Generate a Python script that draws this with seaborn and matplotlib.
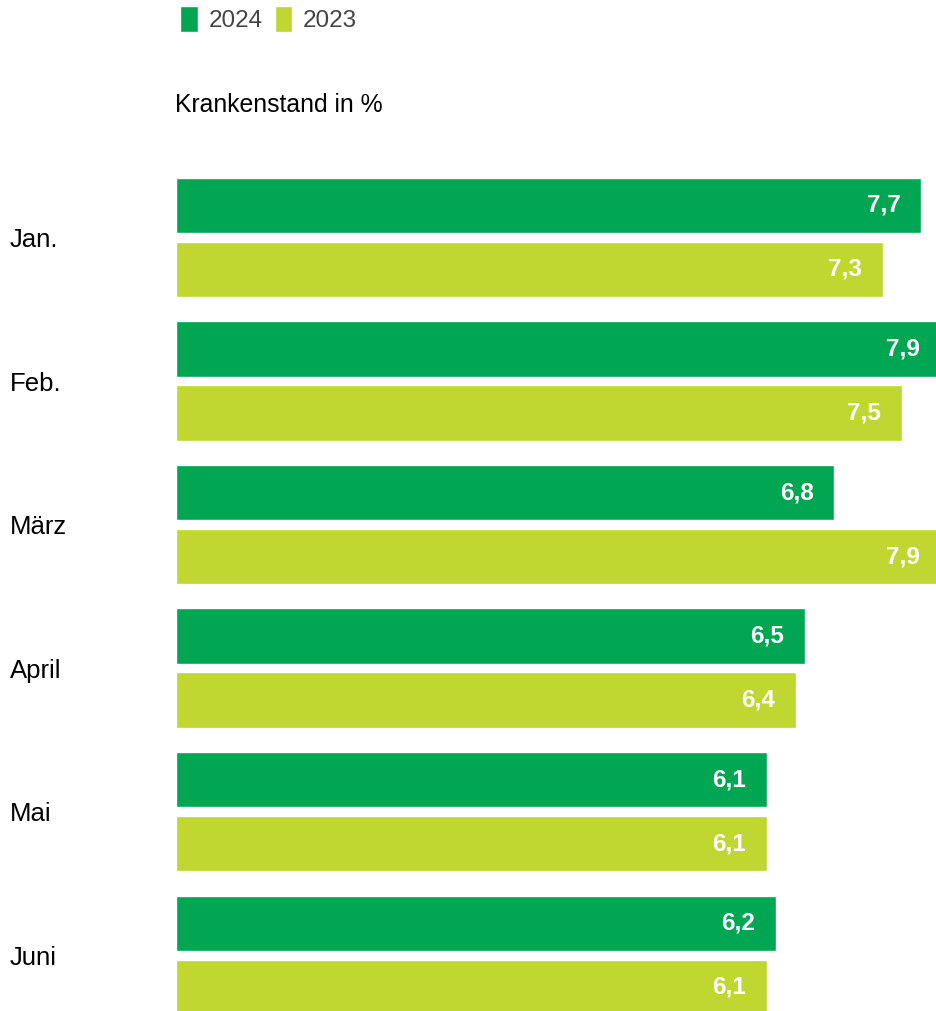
import matplotlib
matplotlib.use("Agg")
import matplotlib.pyplot as plt
import seaborn as sns
import pandas as pd

monate = ["Jan.", "Feb.", "März", "April", "Mai", "Juni"]
werte_2024 = [7.7, 7.9, 6.8, 6.5, 6.1, 6.2]
werte_2023 = [7.3, 7.5, 7.9, 6.4, 6.1, 6.1]
jahre = ["2024", "2023"]
farben = {"2024": "#00A651", "2023": "#BFD730"}

df = pd.DataFrame({
    "Monat": monate * 2,
    "Jahr": ["2024"] * len(monate) + ["2023"] * len(monate),
    "Wert": werte_2024 + werte_2023,
})

sns.set_style("white")
plt.rcParams["font.family"] = ["Liberation Sans", "DejaVu Sans"]

fig = plt.figure(figsize=(9.36, 10.11), dpi=100)
ax = fig.add_axes([175 / 936, 0, 761 / 936, 1 - 160 / 1011])

sns.barplot(data=df, x="Wert", y="Monat", hue="Jahr", hue_order=jahre,
            palette=farben, orient="h", width=0.892, gap=0.14,
            saturation=1, ax=ax)

# value labels inside the bar ends, white bold
for cont in ax.containers:
    texts = ax.bar_label(cont, labels=[f"{v:.1f}".replace(".", ",") for v in cont.datavalues],
                         padding=-15, color="white", fontsize=17.5, fontweight="bold")
    for t in texts:
        t.set_ha("right")
        t.set_annotation_clip(False)

handles, labels = ax.get_legend_handles_labels()
ax.get_legend().remove()
fig.legend(handles, labels, loc="upper left", bbox_to_anchor=(180 / 936, 1 - 6 / 1011),
           ncol=2, frameon=False, fontsize=17.5, labelcolor="#444444",
           handlelength=0.72, handleheight=1.3, handletextpad=0.45,
           columnspacing=0.5, borderpad=0, borderaxespad=0)

fig.text(175 / 936, 1 - 105 / 1011, "Krankenstand in %", fontsize=17.8,
         color="black", va="center", ha="left")

ax.set_xlim(-0.01, 7.85)
ax.set_ylim(5.39, -0.54)
ax.set_xticks([])
ax.set_xlabel("")
ax.set_ylabel("")
ax.tick_params(axis="y", length=0, pad=119, labelsize=18.5, labelcolor="black")
for lab in ax.get_yticklabels():
    lab.set_ha("left")
sns.despine(ax=ax, left=True, bottom=True)

fig.savefig("out.png", dpi=100)
plt.close(fig)
